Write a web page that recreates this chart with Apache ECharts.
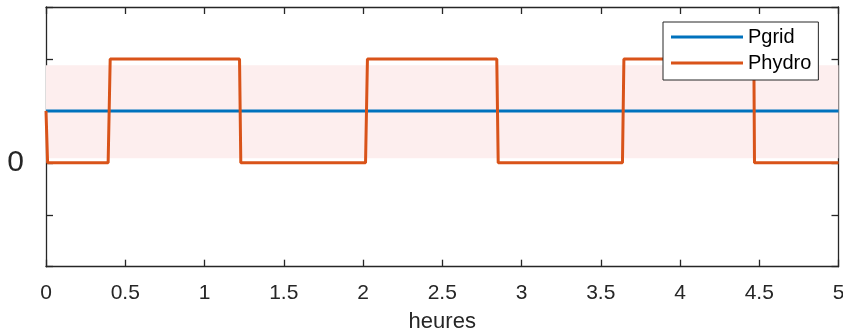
<!DOCTYPE html>
<html>
<head>
<meta charset="utf-8">
<script src="https://cdn.jsdelivr.net/npm/echarts@6/dist/echarts.min.js"></script>
<style>
  html, body { margin: 0; padding: 0; background: #fff; }
  #main { width: 843px; height: 336px; }
</style>
</head>
<body>
<div id="main"></div>
<script>
// heures
const pgrid = [[0, 0.5], [5, 0.5]];
const phydro = [
  [0, 0.5], [0.01, 0],
  [0.392, 0], [0.405, 1],
  [1.221, 1], [1.229, 0],
  [2.016, 0], [2.028, 1],
  [2.844, 1], [2.853, 0],
  [3.637, 0], [3.646, 1],
  [4.466, 1], [4.470, 0],
  [5, 0]
];
// bande rose
const bandLow = 0.045;
const bandHigh = 0.94;
const yTickShown = [0];

const axisColor = '#262626';
const font = 'Liberation Sans, Arial, sans-serif';
const lineIcon = 'path://M0,0 L72,0 L72,3 L0,3 Z';

function boxAxis(pos) {
  return {
    type: 'value', position: pos,
    axisLine: { show: true, onZero: false, lineStyle: { color: axisColor, width: 1.3 } },
    axisTick: { show: true, inside: true, length: 7, lineStyle: { color: axisColor, width: 1.3 } },
    axisLabel: { show: false },
    splitLine: { show: false }
  };
}

const myChart = echarts.init(document.getElementById('main'));
const option = {
  animation: false,
  grid: { left: 46, right: 4.5, top: 7, bottom: 69.3, outerBoundsMode: 'none', containLabel: false },
  legend: {
    data: [{ name: 'Pgrid', icon: lineIcon }, { name: 'Phydro', icon: lineIcon }],
    orient: 'vertical',
    left: 663,
    top: 22,
    padding: [5, 7, 7, 8],
    itemGap: 6,
    itemWidth: 72,
    itemHeight: 3,
    itemTextGap: 9,
    borderColor: axisColor,
    borderWidth: 1,
    borderRadius: 0,
    backgroundColor: '#fff',
    textStyle: { fontFamily: font, fontSize: 20, lineHeight: 20, color: '#000' }
  },
  xAxis: [
    {
      type: 'value', min: 0, max: 5, interval: 0.5, position: 'bottom',
      name: 'heures', nameLocation: 'middle', nameGap: 44,
      nameTextStyle: { fontFamily: font, fontSize: 22, color: axisColor },
      axisLine: { onZero: false, lineStyle: { color: axisColor, width: 1.3 } },
      axisTick: { inside: true, length: 7, lineStyle: { color: axisColor, width: 1.3 } },
      axisLabel: { fontFamily: font, fontSize: 21, color: axisColor, margin: 16 },
      splitLine: { show: false }
    },
    Object.assign(boxAxis('top'), { min: 0, max: 5, interval: 0.5 })
  ],
  yAxis: [
    {
      type: 'value', min: -1, max: 1.5, interval: 0.5, position: 'left',
      axisLine: { show: true, onZero: false, lineStyle: { color: axisColor, width: 1.3 } },
      axisTick: { show: true, inside: true, length: 7, lineStyle: { color: axisColor, width: 1.3 } },
      axisLabel: {
        fontFamily: font, fontSize: 30, color: axisColor, margin: 22,
        formatter: v => (yTickShown.indexOf(v) >= 0 ? String(v) : '')
      },
      splitLine: { show: false }
    },
    Object.assign(boxAxis('right'), { min: -1, max: 1.5, interval: 0.5 })
  ],
  series: [
    {
      name: 'Pgrid',
      type: 'line',
      data: pgrid,
      symbol: 'none',
      color: '#0072BD',
      lineStyle: { width: 3, color: '#0072BD' },
      markArea: {
        silent: true,
        itemStyle: { color: '#fdeeee' },
        data: [[{ yAxis: bandLow }, { yAxis: bandHigh }]]
      },
      z: 2
    },
    {
      name: 'Phydro',
      type: 'line',
      data: phydro,
      symbol: 'none',
      color: '#D95319',
      lineStyle: { width: 3, color: '#D95319' },
      z: 3
    }
  ]
};
myChart.setOption(option);
</script>
</body>
</html>
